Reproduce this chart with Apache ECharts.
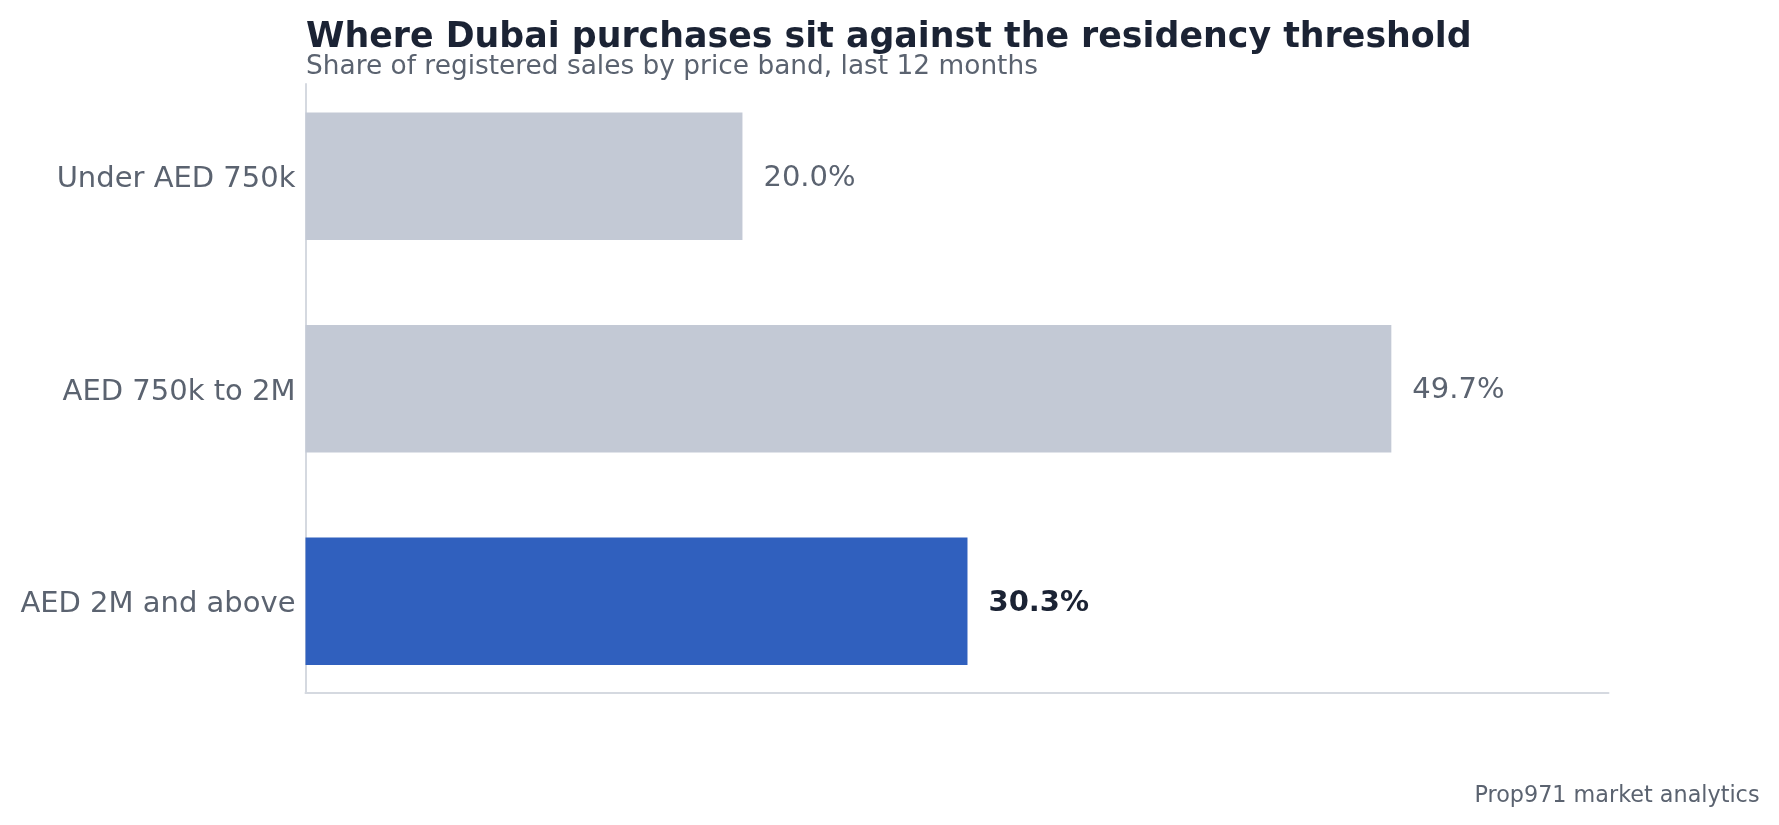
<!DOCTYPE html>
<html lang="en">
<head>
    <meta charset="UTF-8">
    <title>Dubai residency threshold</title>
    <style>
        html, body { margin: 0; padding: 0; background: #ffffff; }
        #chart { width: 1779px; height: 825px; }
    </style>
</head>
<body>
<div id="chart"></div>

<script src="https://cdn.jsdelivr.net/npm/echarts@6/dist/echarts.min.js"></script>
<script>
// data
var bands = ['Under AED 750k', 'AED 750k to 2M', 'AED 2M and above'];
var shares = [20.0, 49.7, 30.3];
var highlight = [false, false, true];

var grey = '#c3c9d5';
var blue = '#3060be';
var ink = '#1b2334';
var muted = '#5b6370';

var chart = echarts.init(document.getElementById('chart'), null, { renderer: 'canvas' });

var barData = shares.map(function (v, i) {
    return {
        value: v,
        itemStyle: { color: highlight[i] ? blue : grey },
        label: highlight[i] ? { color: ink, fontWeight: 'bold' } : { color: muted }
    };
});

var option = {
    backgroundColor: '#ffffff',
    animation: false,
    textStyle: { fontFamily: 'DejaVu Sans' },
    title: [
        {
            text: 'Where Dubai purchases sit against the residency threshold',
            left: 301,
            top: 15.5,
            textStyle: { color: ink, fontSize: 34.8, fontWeight: 'bold', fontFamily: 'DejaVu Sans' }
        },
        {
            text: 'Share of registered sales by price band, last 12 months',
            left: 301,
            top: 49,
            textStyle: { color: muted, fontSize: 26.4, fontWeight: 'normal', fontFamily: 'DejaVu Sans' }
        },
        {
            text: 'Prop971 market analytics',
            right: 14.5,
            top: 780,
            textStyle: { color: muted, fontSize: 22.3, fontWeight: 'normal', fontFamily: 'DejaVu Sans' }
        }
    ],
    grid: [
        // bars
        { left: 305.5, right: 170.5, top: 70, bottom: 117.5 },
        // spines only
        { left: 305.5, right: 170.5, top: 84, bottom: 132 }
    ],
    xAxis: [
        {
            gridIndex: 0,
            type: 'value',
            min: 0,
            max: 59.64,
            show: false
        },
        {
            gridIndex: 1,
            type: 'value',
            min: 0,
            max: 1,
            axisLine: { show: true, lineStyle: { color: '#d5d9e0', width: 2 } },
            axisTick: { show: false },
            axisLabel: { show: false },
            splitLine: { show: false }
        }
    ],
    yAxis: [
        {
            gridIndex: 0,
            type: 'category',
            inverse: true,
            data: bands,
            axisLine: { show: false },
            axisTick: { show: false },
            splitLine: { show: false },
            axisLabel: {
                margin: 10,
                formatter: function (v) { return '{c|' + v + '}'; },
                rich: {
                    c: {
                        color: muted,
                        fontSize: 29,
                        fontFamily: 'DejaVu Sans',
                        padding: [7, 0, 0, 0]
                    }
                }
            }
        },
        {
            gridIndex: 1,
            type: 'value',
            min: 0,
            max: 1,
            axisLine: { show: true, lineStyle: { color: '#d5d9e0', width: 2 } },
            axisTick: { show: false },
            axisLabel: { show: false },
            splitLine: { show: false }
        }
    ],
    series: [
        {
            type: 'bar',
            xAxisIndex: 0,
            yAxisIndex: 0,
            barWidth: '60%',
            data: barData,
            label: {
                show: true,
                position: 'right',
                distance: 21,
                offset: [0, 2],
                fontSize: 29,
                fontFamily: 'DejaVu Sans',
                formatter: function (p) {
                    return p.value.toFixed(1) + '%';
                }
            }
        }
    ]
};

chart.setOption(option);
</script>
</body>
</html>
